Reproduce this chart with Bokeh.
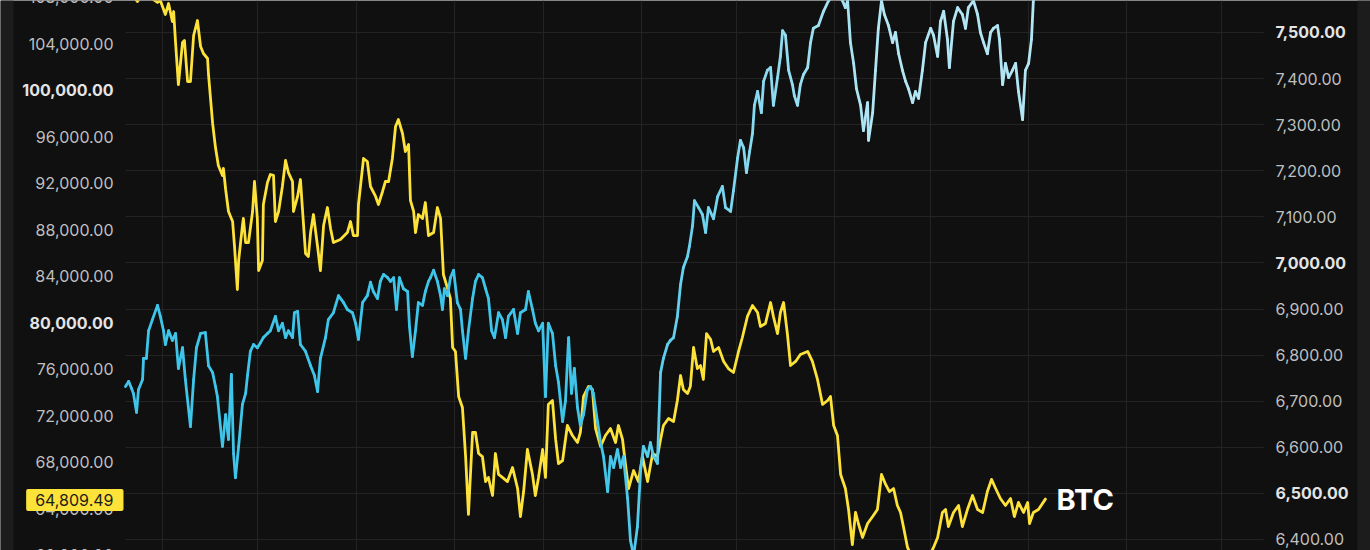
import pandas as pd
from bokeh.plotting import figure
from bokeh.models import (Range1d, SingleIntervalTicker, Label, MonthsTicker,
                          ColumnDataSource, BoxAnnotation)
from bokeh.embed import file_html
from bokeh.resources import INLINE
from bokeh.core.properties import value

# ---------------- data ----------------
BASE_DATE = "2025-10-18"   # day 0

btc_day = [2.2, 4.4, 6.0, 7.6, 10.1, 12.3, 13.2, 14.8, 15.8, 17.0,
           17.4, 18.0, 18.9, 20.2, 20.8, 21.8, 22.7, 23.7, 24.9, 25.9,
           26.8, 28.1, 28.4, 29.7, 30.6, 31.5, 32.8, 33.1, 33.8, 34.7,
           36.0, 36.6, 37.5, 37.9, 39.1, 39.4, 40.1, 41.0, 42.3, 42.9,
           43.8, 44.2, 45.4, 45.7, 47.0, 47.9, 48.9, 49.5, 50.5, 51.7,
           52.7, 53.6, 54.9, 55.2, 56.5, 57.4, 58.0, 59.0, 59.9, 60.6,
           61.5, 62.8, 63.7, 64.7, 65.9, 66.9, 67.8, 70.0, 72.2, 73.2,
           74.1, 75.4, 75.7, 77.3, 78.5, 79.5, 81.1, 82.0, 83.3, 84.2,
           85.2, 86.4, 87.4, 88.3, 89.6, 90.5, 91.5, 92.1, 93.1, 93.7,
           94.6, 95.9, 96.8, 97.8, 99.4, 100.6, 101.6, 102.5, 103.8, 104.7,
           105.4, 106.3, 107.3, 108.5, 109.5, 110.4, 111.7, 112.6, 113.6, 114.8,
           115.8, 116.7, 118.0, 118.9, 119.9, 121.1, 122.7, 124.3, 125.9, 126.8,
           127.8, 129.0, 130.6, 131.5, 132.5, 133.8, 134.7, 135.6, 136.9, 137.9,
           138.8, 140.1, 141.6, 143.2, 144.8, 145.7, 146.7, 148.3, 149.5, 150.5,
           152.1, 153.6, 155.2, 156.8, 157.7, 159.0, 159.9, 160.9, 162.5, 164.0,
           165.3, 166.9, 168.5, 170.0, 171.0, 171.9, 173.5, 175.1, 176.3, 177.3,
           178.2, 179.5, 180.4, 181.4, 182.6, 183.6, 184.5, 185.5, 186.8, 187.7,
           189.3, 190.9, 192.4, 194.0, 195.6, 196.8, 198.4, 200.0, 201.6, 202.5,
           204.1, 205.7, 206.6, 207.9, 208.8, 209.8, 211.0, 212.0, 213.6, 215.1,
           217.4, 218.9, 220.5, 222.1, 223.7, 224.6, 225.6, 226.8, 227.8, 229.3,
           230.3, 231.5, 232.5, 233.4, 234.7, 236.3, 237.9, 239.4, 240.7, 242.0,
           243.2, 244.5, 245.7, 246.7, 247.6, 248.9, 250.8, 253.0, 255.2, 257.1,
           258.4, 259.9, 260.9, 261.8, 263.4, 265.0, 266.2, 267.8, 269.4, 271.0,
           272.6, 274.1, 275.4, 276.7, 278.2, 279.8, 281.4, 282.6, 283.9, 285.5,
           286.8, 287.4, 288.6, 290.2, 292.4]

btc_price = [108990, 108130, 107610, 108390, 107960, 107530, 107700, 106500, 107440, 105890,
             106750, 104090, 100470, 104090, 104260, 100730, 100730, 104690, 105980, 103740,
             103140, 102710, 101330, 97120, 95050, 93510, 92650, 93250, 91440, 89550,
             88690, 86540, 82840, 85330, 88340, 88950, 86880, 86880, 89550, 92130,
             88950, 84470, 85330, 90150, 92040, 92730, 92650, 88690, 89550, 91700,
             93940, 92900, 92130, 89550, 90840, 92300, 89890, 85940, 85680, 87740,
             89290, 86540, 84470, 88340, 89890, 88090, 86880, 87140, 87740, 88690,
             87480, 87480, 90150, 94110, 93850, 91700, 90840, 90150, 91270, 92130,
             92130, 94110, 96860, 97460, 96260, 94710, 95310, 90500, 89550, 87740,
             89290, 88950, 90320, 87480, 87740, 89890, 88950, 84130, 82930, 82070,
             77850, 77510, 73640, 72690, 68470, 63490, 70540, 70540, 68730, 68470,
             66320, 66670, 65120, 68730, 66930, 66670, 66320, 67530, 65720, 63310,
             65460, 69080, 66930, 65120, 66670, 69080, 66670, 72950, 73290, 69940,
             67870, 68130, 71140, 70280, 69680, 70540, 73640, 74500, 74240, 70880,
             69330, 70280, 70880, 69680, 71140, 69940, 67870, 65720, 67270, 66320,
             68470, 66320, 68730, 68470, 69940, 71140, 71740, 71490, 73290, 75440,
             74240, 73890, 74500, 77850, 76040, 76300, 75100, 79050, 78540, 77510,
             77850, 76650, 76040, 75700, 77510, 78710, 80520, 81460, 80860, 79660,
             79920, 81720, 80520, 79050, 80860, 81720, 79050, 76300, 76650, 77250,
             77510, 76650, 75100, 72950, 73290, 73640, 71140, 70280, 66930, 65720,
             63910, 60900, 63660, 62710, 61510, 62710, 63310, 63910, 66930, 66070,
             65460, 65720, 64260, 63660, 62450, 60650, 59530, 58670, 59530, 60650,
             61510, 63660, 63910, 62450, 63660, 64260, 62450, 63910, 65120, 63910,
             63660, 65460, 66500, 65720, 64860, 64260, 64860, 63310, 64520, 63660,
             64520, 62710, 63660, 63910, 64809.49]

spx_day = [2.2, 3.2, 4.1, 4.7, 5.7, 6.3, 7.6, 7.9, 8.8, 9.5,
           10.7, 12.3, 13.2, 14.2, 14.8, 15.8, 17.0, 18.0, 18.9, 20.2,
           21.1, 22.7, 23.7, 24.6, 25.9, 27.4, 28.4, 29.7, 30.6, 31.2,
           32.8, 33.8, 34.7, 35.6, 36.3, 36.9, 37.9, 39.1, 40.1, 40.7,
           41.6, 42.6, 43.8, 44.8, 45.7, 47.0, 47.9, 49.5, 50.5, 51.7,
           52.7, 53.6, 54.9, 55.5, 56.5, 57.4, 59.0, 60.6, 61.8, 62.8,
           63.7, 65.3, 66.2, 67.8, 69.4, 71.0, 72.2, 73.8, 74.8, 75.7,
           77.0, 78.5, 79.5, 80.4, 81.7, 82.6, 83.6, 84.9, 85.8, 86.8,
           87.7, 88.6, 89.9, 91.2, 91.8, 92.7, 93.7, 94.6, 95.9, 96.8,
           97.8, 98.4, 99.4, 100.6, 101.6, 102.2, 102.8, 103.8, 104.7, 105.7,
           106.9, 107.9, 108.5, 109.5, 110.4, 111.7, 112.6, 113.6, 114.8, 115.8,
           116.7, 117.7, 118.6, 119.9, 121.1, 122.1, 123.0, 124.6, 125.9, 126.8,
           128.4, 129.3, 130.6, 131.5, 132.5, 133.8, 134.7, 135.6, 136.9, 137.9,
           138.8, 140.1, 141.0, 142.0, 142.9, 143.8, 144.8, 145.7, 146.7, 147.9,
           148.9, 149.8, 151.1, 152.1, 153.0, 154.3, 155.2, 156.2, 157.4, 158.4,
           159.3, 160.6, 161.5, 162.5, 163.7, 164.7, 165.6, 166.9, 167.8, 168.8,
           170.0, 171.0, 171.9, 173.2, 174.1, 175.1, 176.3, 177.3, 178.2, 179.5,
           180.1, 181.1, 181.7, 183.0, 184.2, 185.2, 186.1, 187.7, 189.0, 190.5,
           191.5, 193.1, 194.0, 195.3, 196.2, 197.2, 198.1, 199.1, 200.0, 200.6,
           201.6, 202.8, 203.5, 204.7, 205.7, 206.6, 207.9, 208.8, 209.5, 210.4,
           211.4, 212.6, 213.2, 214.2, 215.1, 216.1, 217.4, 218.3, 219.2, 220.8,
           222.4, 224.0, 226.2, 228.4, 229.3, 230.0, 230.9, 231.9, 232.8, 234.1,
           235.0, 236.3, 236.6, 237.9, 238.8, 239.7, 240.7, 241.6, 242.9, 244.2,
           245.1, 246.1, 247.3, 248.3, 249.2, 250.5, 251.4, 252.4, 253.6, 254.6,
           256.2, 257.1, 258.4, 259.3, 260.3, 261.5, 262.1, 263.4, 264.7, 266.2,
           267.2, 268.1, 269.7, 271.0, 271.9, 272.9, 274.1, 275.1, 276.0, 277.3,
           277.9, 278.9, 279.8, 280.8, 282.0, 283.0, 283.9, 285.2, 286.1, 287.1,
           288.0, 288.6, 289.3]

spx_price = [6732, 6743, 6728, 6717, 6676, 6725, 6747, 6793, 6793, 6853,
             6877, 6908, 6884, 6853, 6823, 6853, 6832, 6847, 6771, 6816,
             6747, 6645, 6747, 6816, 6847, 6849, 6777, 6762, 6732, 6710,
             6602, 6671, 6617, 6758, 6586, 6534, 6602, 6693, 6717, 6756,
             6808, 6823, 6816, 6827, 6838, 6847, 6853, 6884, 6853, 6869,
             6838, 6853, 6838, 6892, 6895, 6823, 6808, 6777, 6756, 6721,
             6793, 6838, 6877, 6892, 6929, 6914, 6899, 6892, 6869, 6834,
             6914, 6929, 6958, 6938, 6923, 6960, 6975, 6968, 6960, 6968,
             6899, 6968, 6944, 6938, 6862, 6797, 6853, 6914, 6908, 6938,
             6960, 6968, 6984, 6960, 6929, 6899, 6944, 6929, 6968, 6984,
             6914, 6899, 6853, 6793, 6853, 6923, 6960, 6975, 6968, 6944,
             6923, 6853, 6838, 6892, 6877, 6838, 6884, 6899, 6847, 6892,
             6899, 6938, 6899, 6869, 6853, 6869, 6710, 6869, 6847, 6777,
             6741, 6656, 6701, 6838, 6717, 6771, 6686, 6647, 6671, 6725,
             6732, 6717, 6656, 6610, 6580, 6504, 6580, 6556, 6595, 6556,
             6580, 6489, 6398, 6365, 6428, 6550, 6602, 6580, 6610, 6580,
             6565, 6762, 6793, 6823, 6832, 6838, 6884, 6953, 6990, 7014,
             7036, 7081, 7135, 7120, 7105, 7066, 7120, 7096, 7144, 7166,
             7120, 7112, 7157, 7228, 7266, 7250, 7196, 7242, 7281, 7342,
             7372, 7326, 7394, 7418, 7424, 7342, 7402, 7448, 7504, 7494,
             7418, 7387, 7363, 7342, 7387, 7409, 7424, 7478, 7509, 7515,
             7546, 7569, 7582, 7569, 7554, 7569, 7478, 7433, 7378, 7342,
             7287, 7348, 7266, 7326, 7418, 7509, 7569, 7539, 7515, 7478,
             7500, 7454, 7418, 7394, 7378, 7348, 7372, 7357, 7418, 7478,
             7509, 7494, 7448, 7524, 7546, 7485, 7424, 7524, 7554, 7539,
             7509, 7554, 7569, 7539, 7500, 7478, 7454, 7500, 7509, 7515,
             7485, 7387, 7433, 7402, 7418, 7433, 7372, 7311, 7418, 7433,
             7485, 7569, 7587]

btc_label = "BTC"
btc_last_text = "64,809.49"
btc_ticks = [60000, 64000, 68000, 72000, 76000, 80000, 84000, 88000, 92000, 96000, 100000, 104000, 108000]
btc_bold_ticks = [80000, 100000]
spx_ticks = [6400, 6500, 6600, 6700, 6800, 6900, 7000, 7100, 7200, 7300, 7400, 7500, 7600]
spx_bold_ticks = [6500, 7000, 7500]

# ---------------- layout / style ----------------
W, H = 1370, 550
BG = "#101010"
SIDE = "#1c1c1c"
GRID = "#232323"
YELLOW = "#fde23a"
LABEL = "#bfbfbf"
LABEL_BOLD = "#e4e4e4"
FONT = "Inter"
FS = "16px"
BLUE_STOPS = [(0, (62, 197, 233)), (150, (62, 197, 233)), (200, (134, 217, 240)),
              (240, (178, 230, 244)), (400, (178, 230, 244))]

# visible window (days) and plot-area edges (days)
VIEW_DAYS = (-37.22, 394.95)
AREA_DAYS = (2.21, 361.2)
BTC_VIEW = (60388, 107699)
SPX_VIEW = (6376.1, 7569.4)

base = pd.Timestamp(BASE_DATE)
EPOCH = pd.Timestamp("1970-01-01")


def to_dt(days):
    return base + pd.to_timedelta(days, unit="D")


def ms(ts):
    return (ts - EPOCH) / pd.Timedelta(milliseconds=1)


def blue_at(d):
    for (d0, c0), (d1, c1) in zip(BLUE_STOPS[:-1], BLUE_STOPS[1:]):
        if d0 <= d <= d1:
            t = (d - d0) / (d1 - d0) if d1 > d0 else 0
            r, g, b = (int(round(a + (bb - a) * t)) for a, bb in zip(c0, c1))
            return "#%02x%02x%02x" % (r, g, b)
    return "#%02x%02x%02x" % BLUE_STOPS[-1][1]


area_l, area_r = ms(to_dt(AREA_DAYS[0])), ms(to_dt(AREA_DAYS[1]))

p = figure(width=W, height=H, output_backend="svg", toolbar_location=None,
           x_axis_type="datetime",
           x_range=Range1d(to_dt(VIEW_DAYS[0]), to_dt(VIEW_DAYS[1])),
           y_range=Range1d(*SPX_VIEW),
           min_border=0, background_fill_color=BG, border_fill_color=BG,
           outline_line_color=None)
p.extra_y_ranges = {"btc": Range1d(*BTC_VIEW)}
p.xaxis.visible = False
p.yaxis.visible = False

# side strips
for l, r in ((0, 13), (1357, W)):
    p.add_layout(BoxAnnotation(left=l, right=r, left_units="screen", right_units="screen",
                               fill_color=SIDE, fill_alpha=1, line_color=None, level="underlay"))

# grid (horizontal lines follow the right-hand S&P scale)
p.xgrid.ticker = MonthsTicker(months=list(range(1, 13)))
p.xgrid.bounds = (area_l, area_r)
p.xgrid.grid_line_color = GRID
p.ygrid.ticker = SingleIntervalTicker(interval=100, num_minor_ticks=0)
p.ygrid.cross_bounds = (area_l, area_r)
p.ygrid.grid_line_color = GRID

# tick labels
def tick_src(ticks, bold, want_bold, xpos):
    sel = [t for t in ticks if (t in bold) == want_bold]
    return ColumnDataSource(dict(x=[xpos] * len(sel), y=sel, text=[f"{t:,.2f}" for t in sel]))

for want_bold in (False, True):
    style = "bold" if want_bold else "normal"
    col = LABEL_BOLD if want_bold else LABEL
    p.text(x="x", y="y", text="text", source=tick_src(btc_ticks, btc_bold_ticks, want_bold, area_l),
           y_range_name="btc", x_offset=-12, text_align="right", text_baseline="middle",
           text_font=value(FONT), text_font_size=value(FS), text_font_style=style, text_color=col)
    p.text(x="x", y="y", text="text", source=tick_src(spx_ticks, spx_bold_ticks, want_bold, area_r),
           x_offset=12, text_align="left", text_baseline="middle",
           text_font=value(FONT), text_font_size=value(FS), text_font_style=style, text_color=col)

# yellow BTC line
btc_dt = to_dt(btc_day)
p.line(btc_dt.to_numpy(), btc_price, y_range_name="btc", line_color=YELLOW,
       line_width=2.8, line_join="round", line_cap="round")

# S&P line with horizontal colour gradient
spx_dt = to_dt(spx_day).to_numpy()
seg = ColumnDataSource(dict(
    x0=spx_dt[:-1], x1=spx_dt[1:], y0=spx_price[:-1], y1=spx_price[1:],
    c=[blue_at((a + b) / 2) for a, b in zip(spx_day[:-1], spx_day[1:])]))
p.segment(x0="x0", y0="y0", x1="x1", y1="y1", source=seg, line_color="c",
          line_width=2.8, line_cap="round")

# last-price tag
p.add_layout(Label(x=area_l, y=btc_price[-1], y_range_name="btc", x_offset=-2, y_offset=-1,
                   text=btc_last_text,
                   text_align="right", text_baseline="middle", text_font=FONT,
                   text_font_size=FS, text_color="#1b1b1b",
                   background_fill_color=YELLOW,
                   padding=dict(left=9, right=10, top=5, bottom=5), border_radius=2))

# series label
p.add_layout(Label(x=ms(btc_dt[-1]), y=btc_price[-1], y_range_name="btc", x_offset=11,
                   text=btc_label, text_align="left", text_baseline="middle", text_font=FONT,
                   text_font_size="29px", text_font_style="bold", text_color="#ffffff"))

open("out.html", "w").write(file_html(p, INLINE))
